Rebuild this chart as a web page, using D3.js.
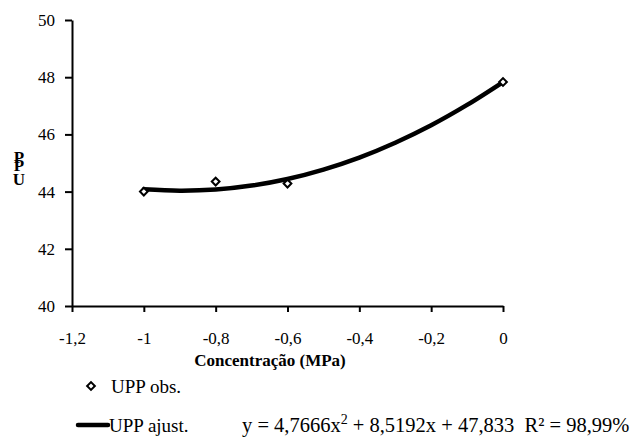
<!DOCTYPE html>
<html lang="pt">
<head>
<meta charset="UTF-8">
<script src="https://d3js.org/d3.v7.min.js"></script>
<style>
  body { margin: 0; background: #fff; }
  svg { display: block; }
  svg text { font-family: "Liberation Serif", "DejaVu Serif", Tinos, FreeSerif, Times, serif !important; }
  .axis path, .axis line { stroke: #000; stroke-width: 2px; }
</style>
</head>
<body>
<script>
// observed values
var obsX = [-1, -0.8, -0.6, 0];
var obsY = [44.0, 44.35, 44.28, 47.83];

// fitted curve
var fitX = [-1, -0.9, -0.8, -0.7, -0.6, -0.5, -0.4, -0.3, -0.2, -0.1, 0];
var fitY = [44.08, 44.03, 44.07, 44.21, 44.44, 44.77, 45.19, 45.71, 46.32, 47.03, 47.83];

var xTicks = [-1.2, -1, -0.8, -0.6, -0.4, -0.2, 0];
var yTicks = [40, 42, 44, 46, 48, 50];

var width = 640, height = 445;
var svg = d3.select('body').append('svg').attr('width', width).attr('height', height);

var x = d3.scaleLinear().domain([-1.2, 0]).range([72, 503]);
var y = d3.scaleLinear().domain([40, 50]).range([306, 20]);

var fmt = function(d) { return String(d).replace('.', ','); };

var gx = svg.append('g')
  .attr('class', 'axis')
  .attr('transform', 'translate(0,' + y(40) + ')')
  .call(d3.axisBottom(x).tickValues(xTicks).tickFormat(fmt).tickSize(6).tickSizeOuter(0).tickPadding(20));

var gy = svg.append('g')
  .attr('class', 'axis')
  .attr('transform', 'translate(' + x(-1.2) + ',0)')
  .call(d3.axisLeft(y).tickValues(yTicks).tickSize(7).tickSizeOuter(0).tickPadding(10));

[gx, gy].forEach(function(g) {
  g.attr('font-family', null).attr('font-size', 17);
  g.selectAll('text').attr('fill', '#000');
});

// y label, stacked letters
var yl = svg.append('g').attr('font-weight', 'bold').attr('font-size', 17).attr('text-anchor', 'middle');
[['P', 163], ['P', 171], ['U', 185]].forEach(function(d) {
  yl.append('text').attr('x', 19).attr('y', d[1]).text(d[0]);
});

svg.append('text')
  .attr('x', 270).attr('y', 366)
  .attr('text-anchor', 'middle')
  .attr('font-weight', 'bold').attr('font-size', 17)
  .text('Concentração (MPa)');

// fitted line
var line = d3.line().x(function(d) { return x(d[0]); }).y(function(d) { return y(d[1]); })
  .curve(d3.curveCatmullRom);
svg.append('path')
  .datum(d3.zip(fitX, fitY))
  .attr('d', line)
  .attr('fill', 'none').attr('stroke', '#000').attr('stroke-width', 4.5).attr('stroke-linecap', 'round');

var diamond = d3.symbol().type(d3.symbolSquare).size(30);
svg.selectAll('.pt')
  .data(d3.zip(obsX, obsY))
  .enter().append('path')
  .attr('class', 'pt')
  .attr('d', diamond)
  .attr('transform', function(d) { return 'translate(' + x(d[0]) + ',' + y(d[1]) + ') rotate(45)'; })
  .attr('fill', '#fff').attr('stroke', '#000').attr('stroke-width', 2);

// legend
svg.append('path')
  .attr('d', diamond)
  .attr('transform', 'translate(91,386) rotate(45)')
  .attr('fill', '#fff').attr('stroke', '#000').attr('stroke-width', 2);
svg.append('text').attr('x', 111).attr('y', 393).attr('font-size', 19).text('UPP obs.');

svg.append('line').attr('x1', 78).attr('x2', 108).attr('y1', 425).attr('y2', 425)
  .attr('stroke', '#000').attr('stroke-width', 4.5).attr('stroke-linecap', 'round');
svg.append('text').attr('x', 109).attr('y', 432).attr('font-size', 19).text('UPP ajust.');

var eq = svg.append('text').attr('x', 242).attr('y', 432).attr('font-size', 20.5)
  .style('white-space', 'pre');
eq.append('tspan').text('y = 4,7666x');
eq.append('tspan').attr('font-size', 14).attr('dy', -8).text('2');
eq.append('tspan').attr('dy', 8).text(' + 8,5192x + 47,833  R² = 98,99%');
</script>
</body>
</html>
